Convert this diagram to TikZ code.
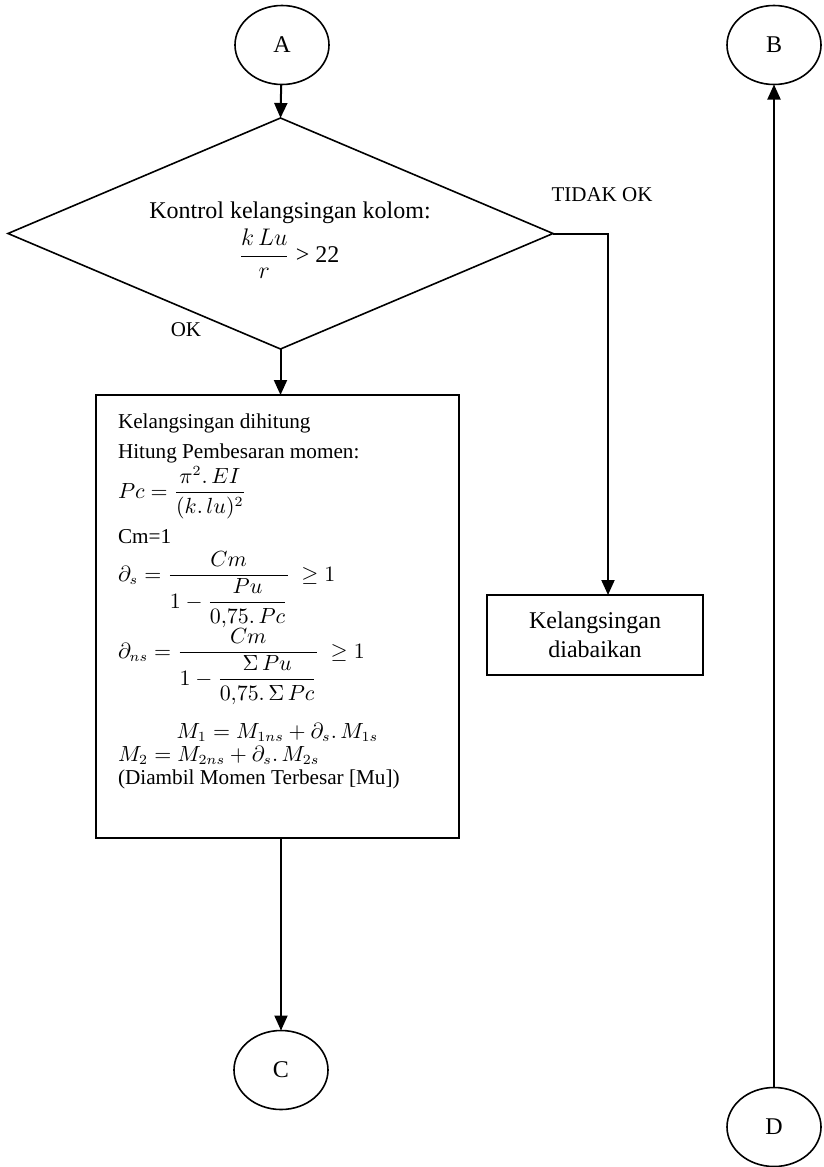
\documentclass[tikz,border=0pt]{standalone}
\usepackage{amsmath,amssymb}
\usepackage{fontspec}
\setmainfont{Liberation Serif}
\usetikzlibrary{shapes.geometric,arrows.meta}

\begin{document}
\begin{tikzpicture}[x=0.5pt,y=-0.5pt,
  every node/.style={outer sep=0pt},
  conn/.style={line width=1pt,-{Triangle[length=7.5pt,width=6.5pt]}},
  term/.style={draw,line width=0.8pt,ellipse,minimum width=47pt,minimum height=39.5pt,inner sep=0pt,font=\fontsize{12}{14}\selectfont},
  decision/.style={draw,line width=0.8pt,diamond,minimum width=272.5pt,minimum height=115.5pt,inner sep=0pt},
  procbox/.style={draw,line width=1pt,rectangle,inner sep=0pt},
  boxline/.style={anchor=base west,inner sep=0pt,font=\fontsize{10.6}{12.7}\selectfont},
  lbl/.style={inner sep=0pt,font=\fontsize{10.5}{12.6}\selectfont}
]
\useasboundingbox (0,0) rectangle (824,1167);

% terminals
\node[term] (A) at (282,45) {A};
\node[term] (B) at (774,45) {B};
\node[term] (C) at (281,1070) {C};
\node[term] (D) at (774,1127) {D};

% slenderness check
\node[decision] (dia) at (280.5,233.5) {};
\node[inner sep=0pt,font=\fontsize{12}{14}\selectfont] (dtitle) at (290,213) {Kontrol kelangsingan kolom:};
\node[inner sep=0pt,anchor=base,font=\fontsize{12}{14}\selectfont] (dcond) at (289,262) {$\dfrac{k\,Lu}{r}$ > 22};

% computation box
\node[procbox,minimum width=181.5pt,minimum height=221.5pt] (calc) at (277.5,616.5) {};
\node[boxline] (t1) at (118,428) {Kelangsingan dihitung};
\node[boxline] (t2) at (118,458) {Hitung Pembesaran momen:};
\node[boxline] (e1) at (118,498) {$Pc = \dfrac{\pi^2.\,EI}{(k.\,lu)^2}$};
\node[boxline] (t3) at (118,543) {Cm=1};
\node[boxline] (e2) at (118,581) {$\partial_s = \dfrac{Cm}{1-\dfrac{Pu}{0{,}75.\,Pc}}\ \geq 1$};
\node[boxline] (e3) at (118,658) {$\partial_{ns} = \dfrac{Cm}{1-\dfrac{\Sigma\,Pu}{0{,}75.\,\Sigma\,Pc}}\ \geq 1$};
\node[inner sep=0pt,anchor=base,font=\fontsize{10.6}{12.7}\selectfont] (e4) at (277.5,738) {$M_1 = M_{1ns} + \partial_s.\,M_{1s}$};
\node[boxline] (e5) at (118,761) {$M_2 = M_{2ns} + \partial_s.\,M_{2s}$};
\node[boxline] (t4) at (118,784) {(Diambil Momen Terbesar [Mu])};

% slenderness neglected
\node[procbox,minimum width=108pt,minimum height=40pt,align=center,font=\fontsize{12}{14.5}\selectfont] (skip) at (595,635) {Kelangsingan\\diabaikan};

% branch labels
\node[lbl] (ok) at (186,330) {OK};
\node[lbl] (notok) at (602,195) {TIDAK OK};

% connectors
\coordinate (turn) at (608,233.5);
\draw[conn] (A) -- (dia.north);
\draw[conn] (dia.south) -- (dia.south |- calc.north);
\draw[conn] (dia.east) -- (turn) -- (turn |- skip.north);
\draw[conn] (calc.south -| C.north) -- (C.north);
\draw[conn] (D.north) -- (B.south);
\end{tikzpicture}
\end{document}
